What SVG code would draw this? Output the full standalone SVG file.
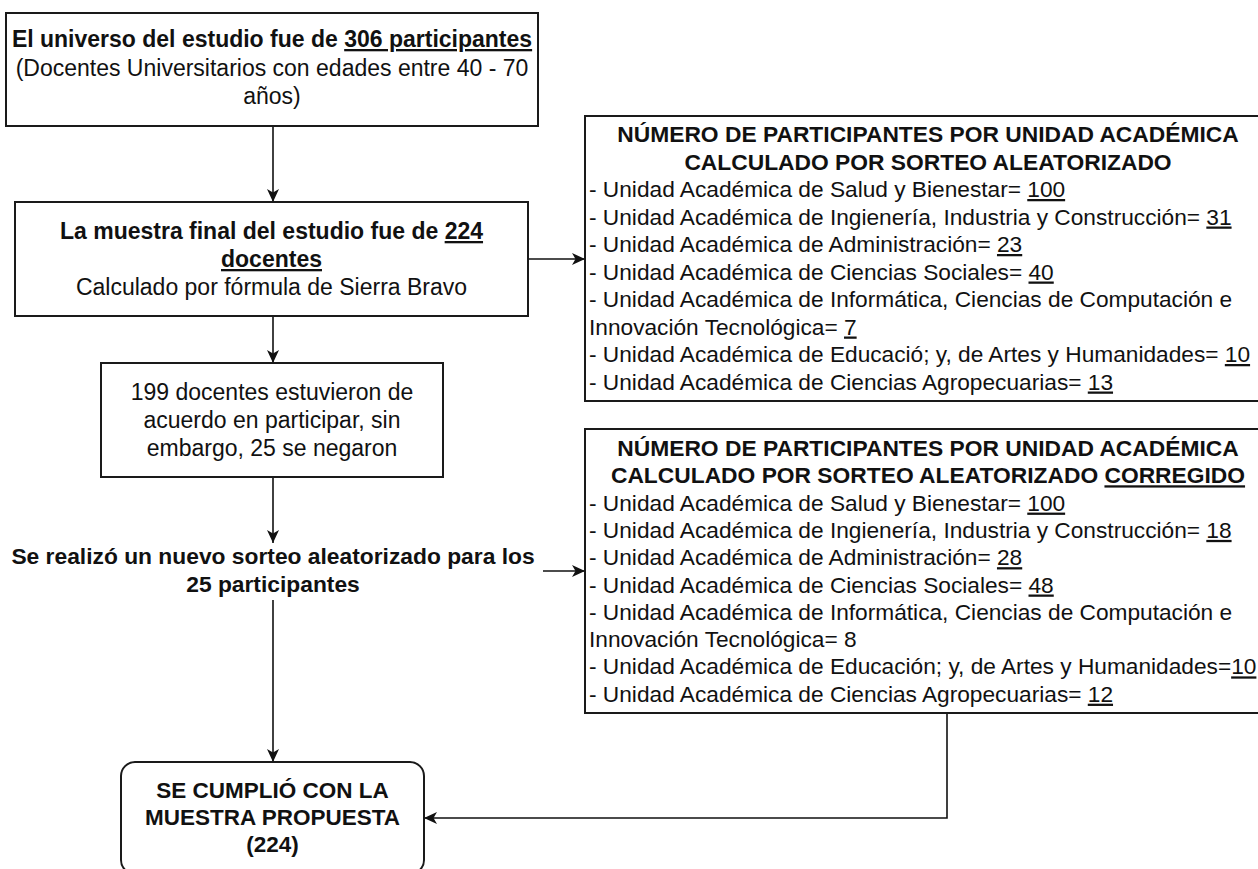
<svg xmlns="http://www.w3.org/2000/svg" width="1258" height="869" viewBox="0 0 1258 869">
<defs>
<marker id="arr" viewBox="0 0 13 12" refX="13" refY="6" markerWidth="13" markerHeight="12" markerUnits="userSpaceOnUse" orient="auto">
<path d="M0,0 L13,6 L0,12 L3.5,6 z" fill="#111"/>
</marker>
</defs>
<style>
.box{fill:#fff;stroke:#1a1a1a;stroke-width:2}
.t{font-family:"Liberation Sans",Arial,sans-serif;font-size:23px;fill:#111}
.b{font-weight:bold}
.c{text-anchor:middle}
.u{text-decoration:underline}
.r{font-size:22.7px}
.h{font-size:22.8px}
.s{font-size:22.5px}
.conn{fill:none;stroke:#111;stroke-width:1.6}
</style>
<rect width="1258" height="869" fill="#fff"/>
<g id="connectors">
<path class="conn" d="M273,126 V202" marker-end="url(#arr)"/>
<path class="conn" d="M273,316 V363" marker-end="url(#arr)"/>
<path class="conn" d="M273,477 V543" marker-end="url(#arr)"/>
<path class="conn" d="M273,600 V762" marker-end="url(#arr)"/>
<path class="conn" d="M528,259 H585" marker-end="url(#arr)"/>
<path class="conn" d="M543,571 H585" marker-end="url(#arr)"/>
<path class="conn" d="M947,713 V818 H424" marker-end="url(#arr)"/>
</g>
<g id="universo">
<rect class="box" x="6" y="13" width="532" height="113"/>
<text class="t c" x="272" y="47"><tspan class="b">El universo del estudio fue de </tspan><tspan class="b u">306 participantes</tspan></text>
<text class="t c" x="272" y="75.5">(Docentes Universitarios con edades entre 40 - 70</text>
<text class="t c" x="272" y="104">años)</text>
</g>
<g id="muestra">
<rect class="box" x="15" y="202" width="513" height="114"/>
<text class="t c" x="271.5" y="239"><tspan class="b">La muestra final del estudio fue de </tspan><tspan class="b u">224</tspan></text>
<text class="t c b u" x="271.5" y="267">docentes</text>
<text class="t c" x="271.5" y="295">Calculado por fórmula de Sierra Bravo</text>
</g>
<g id="acuerdo">
<rect class="box" x="101" y="363" width="342" height="114"/>
<text class="t c" x="272" y="400">199 docentes estuvieron de</text>
<text class="t c" x="272" y="428">acuerdo en participar, sin</text>
<text class="t c" x="272" y="456">embargo, 25 se negaron</text>
</g>
<g id="nuevo-sorteo">
<text class="t c b" x="273" y="564" style="font-size:22.8px">Se realizó un nuevo sorteo aleatorizado para los</text>
<text class="t c b" x="273" y="592" style="font-size:22.8px">25 participantes</text>
</g>
<g id="cumplio">
<rect class="box" x="121" y="762" width="303" height="112" rx="14"/>
<text class="t s c b" x="272.5" y="798">SE CUMPLIÓ CON LA</text>
<text class="t s c b" x="272.5" y="825">MUESTRA PROPUESTA</text>
<text class="t s c b" x="272.5" y="852">(224)</text>
</g>
<g id="sorteo1">
<rect class="box" x="585" y="116" width="686" height="285"/>
<text class="t h c b" x="928" y="142">NÚMERO DE PARTICIPANTES POR UNIDAD ACADÉMICA</text>
<text class="t h c b" x="928" y="169.5">CALCULADO POR SORTEO ALEATORIZADO</text>
<text class="t r" x="589" y="197">- Unidad Académica de Salud y Bienestar= <tspan class="u">100</tspan></text>
<text class="t r" x="589" y="224.5">- Unidad Académica de Ingienería, Industria y Construcción= <tspan class="u">31</tspan></text>
<text class="t r" x="589" y="252">- Unidad Académica de Administración= <tspan class="u">23</tspan></text>
<text class="t r" x="589" y="279.5">- Unidad Académica de Ciencias Sociales= <tspan class="u">40</tspan></text>
<text class="t r" x="589" y="307">- Unidad Académica de Informática, Ciencias de Computación e</text>
<text class="t r" x="589" y="334.5">Innovación Tecnológica= <tspan class="u">7</tspan></text>
<text class="t r" x="589" y="362">- Unidad Académica de Educació; y, de Artes y Humanidades= <tspan class="u">10</tspan></text>
<text class="t r" x="589" y="389.5">- Unidad Académica de Ciencias Agropecuarias= <tspan class="u">13</tspan></text>
</g>
<g id="sorteo2">
<rect class="box" x="585" y="429" width="686" height="284"/>
<text class="t h c b" x="928" y="456">NÚMERO DE PARTICIPANTES POR UNIDAD ACADÉMICA</text>
<text class="t h c b" x="928" y="483.3">CALCULADO POR SORTEO ALEATORIZADO <tspan class="u">CORREGIDO</tspan></text>
<text class="t r" x="589" y="510.6">- Unidad Académica de Salud y Bienestar= <tspan class="u">100</tspan></text>
<text class="t r" x="589" y="537.9">- Unidad Académica de Ingienería, Industria y Construcción= <tspan class="u">18</tspan></text>
<text class="t r" x="589" y="565.2">- Unidad Académica de Administración= <tspan class="u">28</tspan></text>
<text class="t r" x="589" y="592.5">- Unidad Académica de Ciencias Sociales= <tspan class="u">48</tspan></text>
<text class="t r" x="589" y="619.8">- Unidad Académica de Informática, Ciencias de Computación e</text>
<text class="t r" x="589" y="647.1">Innovación Tecnológica= 8</text>
<text class="t r" x="589" y="674.4">- Unidad Académica de Educación; y, de Artes y Humanidades=<tspan class="u">10</tspan></text>
<text class="t r" x="589" y="701.7">- Unidad Académica de Ciencias Agropecuarias= <tspan class="u">12</tspan></text>
</g>
</svg>
